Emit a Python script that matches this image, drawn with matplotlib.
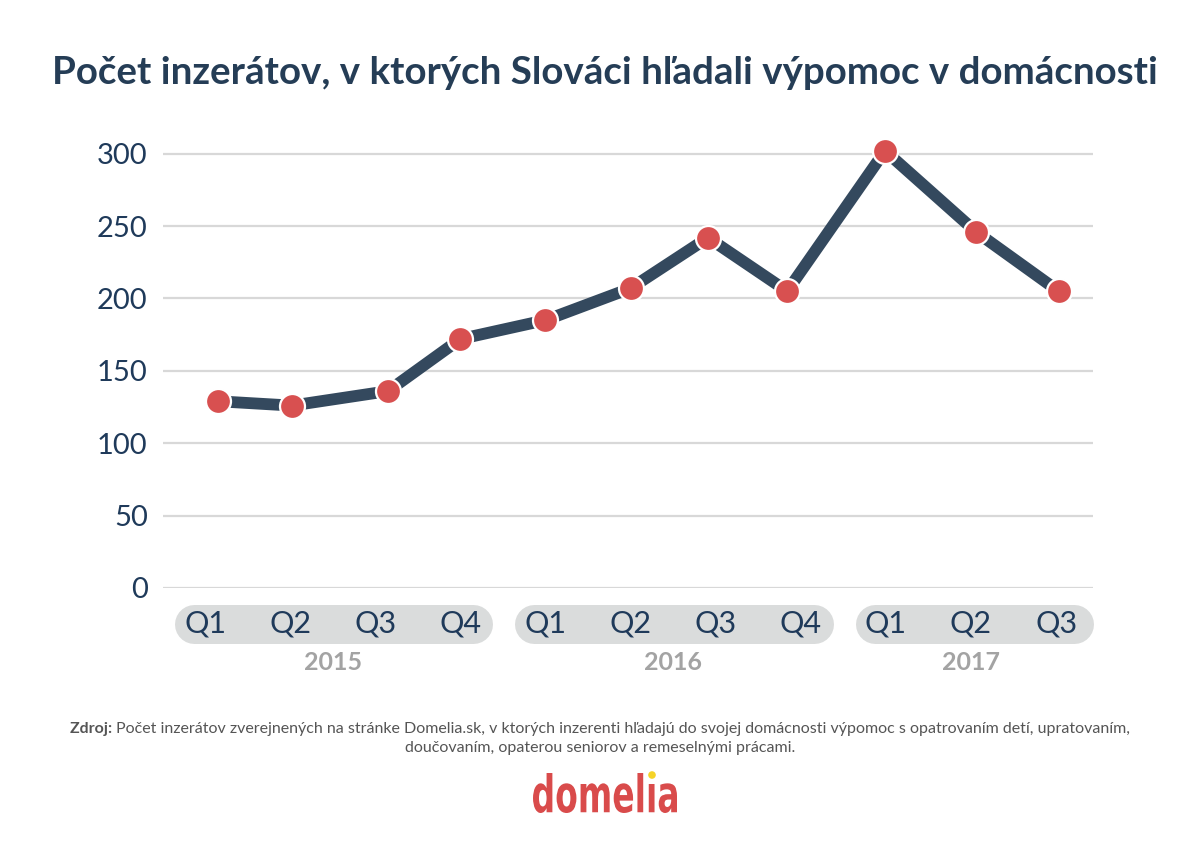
import matplotlib
matplotlib.use("Agg")
import matplotlib.pyplot as plt
import matplotlib.transforms as mtransforms
from matplotlib.textpath import TextPath
from matplotlib.patches import PathPatch, Circle
from matplotlib.font_manager import FontProperties

# hodnoty odčítané z grafu
quarters = ["Q1", "Q2", "Q3", "Q4", "Q1", "Q2", "Q3", "Q4", "Q1", "Q2", "Q3"]
years = ["2015", "2016", "2017"]
year_groups = [(0, 3), (4, 7), (8, 10)]
# poloha bodov na osi x (v jednotkách štvrťrokov, tak ako je v origináli)
x_pos = [0.15, 1.02, 2.15, 3.0, 4.0, 5.0, 5.91, 6.84, 7.99, 9.06, 10.03]
ads = [129, 126, 136, 172, 185, 207, 242, 205, 302, 246, 205]
y_ticks = [0, 50, 100, 150, 200, 250, 300]

NAVY = "#1f3a5a"
LINE = "#34495e"
RED = "#d85050"
PILL = "#dadcdc"
GREY_YEAR = "#a3a3a3"

plt.rcParams["font.family"] = ["Lato", "DejaVu Sans"]

W, H = 1200, 841
fig = plt.figure(figsize=(12, 8.41), dpi=100)
ax = fig.add_axes([163 / W, 1 - 588 / H, (1093 - 163) / W, (588 - 132) / H])

ax.plot(x_pos, ads, color=LINE, lw=8.5, solid_capstyle="butt", zorder=3)
ax.plot(x_pos, ads, ls="none", marker="o", ms=18, mfc=RED, mec="white", mew=1.6,
        zorder=4, clip_on=False)

xmax = 10.434
ax.set_xlim(-0.494, xmax)
ax.set_ylim(0, 300 * (588 - 132) / 434.3)
ax.set_yticks(y_ticks)
ax.set_yticklabels([str(v) for v in y_ticks], fontsize=21, color=NAVY)
ax.tick_params(axis="y", length=0, pad=11)
ax.set_xticks([])
ax.grid(axis="y", color="#d8d8d8", lw=1.6, zorder=1)
ax.set_axisbelow(True)
for s in ax.spines.values():
    s.set_visible(False)

# sivé "pilulky" pod osou x
trans = mtransforms.blended_transform_factory(ax.transData, ax.transAxes)
px = (1093 - 163) / (xmax + 0.494)  # pixelov na jednotku
r = 19.5 / px
pill_y = (588 - 623.5) / (588 - 132)
for (a, b), yr in zip(year_groups, years):
    left = a - 0.36 + r
    right = (xmax if b == len(quarters) - 1 else b + 0.38) - r
    ax.plot([left, right], [pill_y, pill_y], transform=trans, color=PILL,
            lw=39 * 0.72, solid_capstyle="round", clip_on=False, zorder=1)
    ax.text((a + b) / 2, (588 - 663) / (588 - 132), yr, transform=trans,
            ha="center", va="center", fontsize=18, fontweight="bold", color=GREY_YEAR)

for i, q in enumerate(quarters):
    ax.text(i, pill_y, q, transform=trans, ha="center", va="center",
            fontsize=22, color=NAVY, zorder=2)

fig.text(0.504, 1 - 73 / H, "Počet inzerátov, v ktorých Slováci hľadali výpomoc v domácnosti",
         ha="center", va="center", fontsize=27.7, fontweight="bold", color="#253d56")

# zdroj
fig.canvas.draw()
renderer = fig.canvas.get_renderer()
src_bold = "Zdroj: "
src_rest = ("Počet inzerátov zverejnených na stránke Domelia.sk, v ktorých inzerenti hľadajú do svojej "
            "domácnosti výpomoc s opatrovaním detí, upratovaním,")
t1 = fig.text(0, 1 - 729 / H, src_bold, fontsize=11.5, fontweight="bold", color="#555555", va="center")
t2 = fig.text(0, 1 - 729 / H, src_rest, fontsize=11.5, color="#555555", va="center")
w1 = t1.get_window_extent(renderer).width
w2 = t2.get_window_extent(renderer).width
x0 = (W - w1 - w2) / 2
t1.set_x(x0 / W)
t2.set_x((x0 + w1) / W)
fig.text(0.5, 1 - 748 / H, "doučovaním, opaterou seniorov a remeselnými prácami.",
         ha="center", va="center", fontsize=11.5, color="#555555")

# logo - písmo stlačené na šírku
tp = TextPath((0, 0), "domelıa", size=50, prop=FontProperties(family="DejaVu Sans", weight="bold"))
ext = tp.get_extents()
lx0, lx1, ly0, ly1 = 533, 677, H - 813, H - 773
sx = (lx1 - lx0) / ext.width
sy = (ly1 - ly0) / ext.height
tr = mtransforms.Affine2D().translate(-ext.x0, -ext.y0).scale(sx, sy).translate(lx0, ly0)
fig.add_artist(PathPatch(tr.transform_path(tp), facecolor="#d94b4b", edgecolor="none",
                         transform=mtransforms.IdentityTransform()))
fig.add_artist(Circle((652, H - 775), 3.8, facecolor="#f5d327", edgecolor="none",
                      transform=mtransforms.IdentityTransform()))

fig.savefig("out.png", dpi=100)
